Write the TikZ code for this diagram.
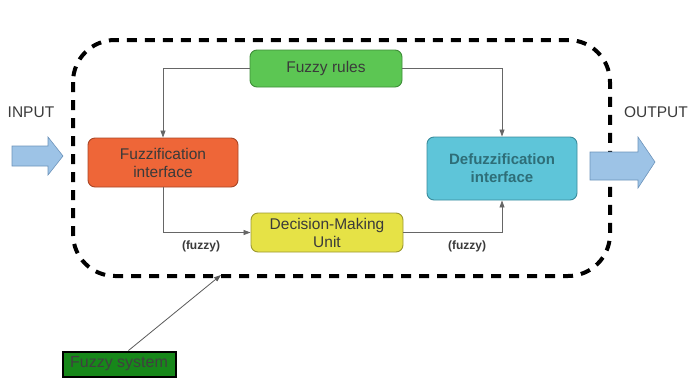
\documentclass[tikz,border=0pt]{standalone}
\usepackage{fontspec}
\setmainfont{Liberation Sans}
\usetikzlibrary{arrows.meta}
\definecolor{txtgrey}{HTML}{3A3A3A}
\definecolor{rulesfill}{HTML}{5CC653}
\definecolor{rulesedge}{HTML}{3E8E38}
\definecolor{fuzzfill}{HTML}{EE6638}
\definecolor{fuzzedge}{HTML}{A94626}
\definecolor{defuzzfill}{HTML}{5EC5D9}
\definecolor{defuzzedge}{HTML}{3A8C9C}
\definecolor{defuzztext}{HTML}{2E6E78}
\definecolor{dmfill}{HTML}{E6E246}
\definecolor{dmedge}{HTML}{9C9830}
\definecolor{sysfill}{HTML}{17871A}
\definecolor{arrowfill}{HTML}{9DC3E6}
\definecolor{arrowedge}{HTML}{6C93BA}
\tikzset{
  block/.style={draw, line width=0.9pt, rounded corners=7pt, align=center,
    text=txtgrey, font=\fontsize{15.5}{18}\selectfont, inner sep=0pt},
  link/.style={draw=black!60, line width=0.8pt, -{Triangle[length=7pt,width=5pt]}},
  tag/.style={font=\bfseries\fontsize{12}{14}\selectfont, text=txtgrey},
  iolabel/.style={text=txtgrey, font=\fontsize{15.5}{18}\selectfont},
  ioarrow/.style={fill=arrowfill, draw=arrowedge, line width=0.6pt}
}
\begin{document}
\begin{tikzpicture}[x=1pt,y=-1pt]
\useasboundingbox (0,0) rectangle (688,381);
% outer dashed boundary of the fuzzy system
\draw[line width=4pt, dash pattern=on 10pt off 8pt, rounded corners=42pt]
  (73,40) rectangle (610,276);
% processing blocks
\node[block, fill=rulesfill, draw=rulesedge, minimum width=152pt, minimum height=37pt]
  (rules) at (326,68.5) {Fuzzy rules};
\node[block, fill=fuzzfill, draw=fuzzedge, minimum width=150pt, minimum height=49pt]
  (fuzz) at (163,162.5) {Fuzzification\\interface};
\node[block, fill=defuzzfill, draw=defuzzedge, minimum width=150pt, minimum height=63pt,
  text=defuzztext, font=\bfseries\fontsize{15}{18}\selectfont]
  (defuzz) at (502,168.5) {Defuzzification\\interface};
\node[block, fill=dmfill, draw=dmedge, minimum width=152pt, minimum height=39pt]
  (dm) at (327,232.5) {Decision-Making\\Unit};
% connectors between blocks
\draw[link] (rules.west) -| (fuzz.north);
\draw[link] (rules.east) -| (defuzz.north);
\draw[link] (fuzz.south) |- (dm.west);
\draw[link] (dm.east) -| (defuzz.south);
\node[tag] (fz1) at (201,246) {(fuzzy)};
\node[tag] (fz2) at (467,246) {(fuzzy)};
% input and output
\node[iolabel] (inlbl) at (31,112) {INPUT};
\node[iolabel] (outlbl) at (656,112) {OUTPUT};
\draw[ioarrow] (12,146) -- (48,146) -- (48,137) -- (63,156) -- (48,175) -- (48,166) -- (12,166) -- cycle;
\draw[ioarrow] (590,152) -- (638,152) -- (638,137) -- (655,162) -- (638,188) -- (638,180) -- (590,180) -- cycle;
% label of the whole system
\node[draw=black, line width=2pt, fill=sysfill, text=black!75, minimum width=113pt,
  minimum height=25pt, inner sep=0pt, font=\fontsize{16}{18}\selectfont]
  (sys) at (119,364) {Fuzzy system};
\coordinate (bnd) at (221,275);
\draw[link, draw=black!65] (sys.north east) ++(-48,0) coordinate (sysn) -- (bnd);
\end{tikzpicture}
\end{document}
